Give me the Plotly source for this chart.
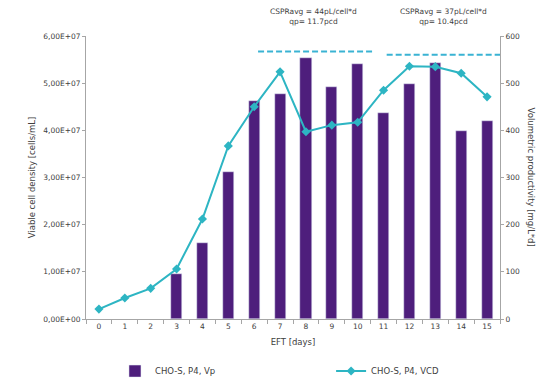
import plotly.graph_objects as go

days = list(range(16))
vp_days = list(range(3, 16))
vp_values = [95, 162, 311, 463, 477, 553, 492, 541, 436, 498, 542, 399, 419]
vcd_values = [2.1e6, 4.45e6, 6.5e6, 10.6e6, 21.2e6, 36.7e6, 45.0e6, 52.4e6, 39.7e6,
              41.1e6, 41.7e6, 48.5e6, 53.6e6, 53.5e6, 52.1e6, 47.1e6]
left_ticks = [0, 1e7, 2e7, 3e7, 4e7, 5e7, 6e7]
left_ticktext = ["0,00E+00", "1,00E+07", "2,00E+07", "3,00E+07", "4,00E+07", "5,00E+07", "6,00E+07"]
cspr_x0 = [6.15, 11.12]
cspr_x1 = [10.6, 15.6]
cspr_level = [567, 560]
cspr_labels = ["CSPRavg = 44pL/cell*d<br>qp= 11.7pcd", "CSPRavg = 37pL/cell*d<br>qp= 10.4pcd"]
cspr_label_x = [8.28, 13.33]

bar_color = "#4E1E7C"
line_color = "#2DB5C3"
dash_color = "#3AB3D3"
axis_color = "#A6A6A6"
text_color = "#404040"
font_family = "DejaVu Sans"

fig = go.Figure()
fig.add_trace(go.Bar(x=vp_days, y=vp_values, name="CHO-S, P4, Vp", marker_color=bar_color,
                     width=0.43, yaxis="y", legend="legend"))
fig.add_trace(go.Scatter(x=days, y=vcd_values, name="CHO-S, P4, VCD", mode="lines+markers",
                         line=dict(color=line_color, width=2),
                         marker=dict(symbol="diamond", size=7, color=line_color),
                         yaxis="y2", legend="legend2"))

for x0, x1, lvl in zip(cspr_x0, cspr_x1, cspr_level):
    fig.add_shape(type="line", x0=x0, x1=x1, y0=lvl, y1=lvl, xref="x", yref="y",
                  line=dict(color=dash_color, width=2, dash="6px,3px"))
for lx, lab in zip(cspr_label_x, cspr_labels):
    fig.add_annotation(x=lx, y=1.0, xref="x", yref="paper", text=lab, showarrow=False,
                       yanchor="bottom", yshift=8,
                       font=dict(size=7.5, color=text_color, family=font_family))

fig.add_annotation(x=1.094, y=0.5, xref="paper", yref="paper", text="Volumetric productivity [mg/L*d]",
                   textangle=90, showarrow=False, font=dict(size=8.5, color=text_color, family=font_family))

fig.update_layout(
    width=545, height=371,
    margin=dict(l=78, r=53, t=28, b=60, autoexpand=False),
    plot_bgcolor="white", paper_bgcolor="white",
    font=dict(family=font_family, size=7.5, color=text_color),
    bargap=0,
    xaxis=dict(range=[-0.5, 15.5], tickvals=days, ticks="", showgrid=False, zeroline=False,
               showline=True, linecolor=axis_color, linewidth=1,
               minor=dict(tick0=-0.5, dtick=1, ticks="outside", ticklen=4, tickcolor=axis_color, showgrid=False),
               title=dict(text="EFT [days]", font=dict(size=8.5), standoff=9),
               tickfont=dict(size=7.5)),
    yaxis=dict(side="right", range=[0, 600], tickvals=[0, 100, 200, 300, 400, 500, 600],
               showgrid=False, zeroline=False, showline=True, linecolor=axis_color,
               ticks="outside", ticklen=3, tickcolor=axis_color, tickfont=dict(size=7.5)),
    yaxis2=dict(side="left", overlaying="y", range=[0, 6e7], tickvals=left_ticks, ticktext=left_ticktext,
                showgrid=False, zeroline=False, showline=True, linecolor=axis_color,
                ticks="outside", ticklen=3, tickcolor=axis_color, tickfont=dict(size=7.5),
                title=dict(text="Viable cell density [cells/mL]", font=dict(size=8.5), standoff=6)),
    legend=dict(x=0.07, y=-0.184, xanchor="left", yanchor="middle", orientation="h",
                font=dict(size=8.5), bgcolor="rgba(0,0,0,0)"),
    legend2=dict(x=0.592, y=-0.184, xanchor="left", yanchor="middle", orientation="h",
                 font=dict(size=8.5), bgcolor="rgba(0,0,0,0)"),
    showlegend=True,
)

fig.write_html("out.html")
